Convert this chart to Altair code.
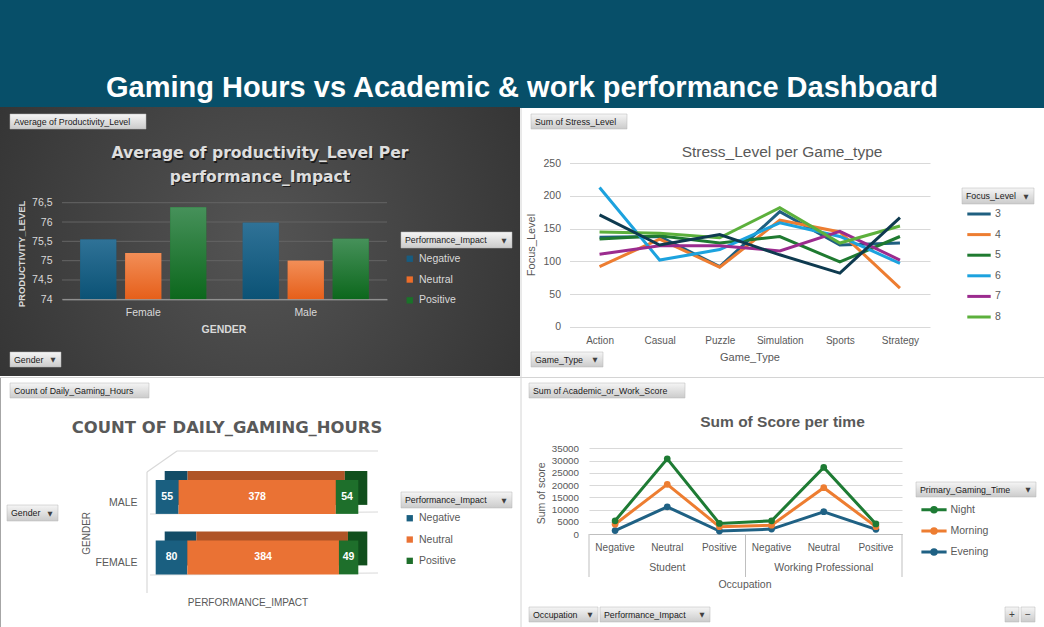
import altair as alt
import pandas as pd

# ---------------- data ----------------
genders = ["Female", "Male"]
impacts = ["Negative", "Neutral", "Positive"]
prod_female = [75.55, 75.2, 76.38]
prod_male = [75.98, 75.0, 75.57]
prod_ticks = [74, 74.5, 75, 75.5, 76, 76.5]

game_types = ["Action", "Casual", "Puzzle", "Simulation", "Sports", "Strategy"]
focus_levels = ["3", "4", "5", "6", "7", "8"]
stress_3 = [137, 138, 92, 176, 125, 128]
stress_4 = [92, 134, 91, 163, 145, 59]
stress_5 = [134, 139, 128, 138, 99, 138]
stress_6 = [213, 102, 118, 159, 138, 97]
stress_7 = [111, 124, 124, 116, 146, 102]
stress_8 = [145, 143, 136, 182, 128, 154]
stress_extra = [171, 125, 141, 110, 82, 167]
stress_ticks = [0, 50, 100, 150, 200, 250]

count_genders = ["MALE", "FEMALE"]
count_male = [55, 378, 54]
count_female = [80, 384, 49]

occupations = ["Student", "Working Professional"]
gaming_times = ["Night", "Morning", "Evening"]
score_night = [5400, 30700, 4300, 5400, 27200, 4100]
score_morning = [4000, 20300, 3000, 3600, 18900, 3000]
score_evening = [1400, 11100, 1200, 2000, 9100, 1900]
score_ticks = [0, 5000, 10000, 15000, 20000, 25000, 30000, 35000]

# ---------------- styling helpers ----------------
W, H = 1044, 627
FONT = "Liberation Sans"
GREY = "#595959"
LIGHT = "#d9d9d9"


def one():
    return pd.DataFrame({"k": [0]})


def vgrad(c0, c1):
    return alt.LinearGradient(
        gradient="linear",
        stops=[alt.GradientStop(color=c0, offset=0), alt.GradientStop(color=c1, offset=1)],
        x1=0, x2=0, y1=0, y2=1,
    )


def box(x, x2, y, y2, fill, **kw):
    return alt.Chart(one()).mark_rect(fill=fill, **kw).encode(
        x=alt.value(x), x2=alt.value(x2), y=alt.value(y), y2=alt.value(y2))


def seg(x, y, x2, y2, color, width=1):
    return alt.Chart(one()).mark_rule(color=color, strokeWidth=width).encode(
        x=alt.value(x), y=alt.value(y), x2=alt.value(x2), y2=alt.value(y2))


def txt(s, x, y, size=10, color=GREY, weight="normal", align="center", angle=0,
        font=FONT, baseline="middle"):
    kw = dict(text=s, fontSize=size, color=color, fontWeight=weight, align=align,
              baseline=baseline, font=font)
    if angle:
        kw["angle"] = angle
    return alt.Chart(one()).mark_text(**kw).encode(x=alt.value(x), y=alt.value(y))


def button(s, x, x2, y, y2, arrow=True, center=False):
    out = [box(x, x2, y, y2, vgrad("#f5f5f5", "#cbcbcb"), stroke="#b5b5b5", strokeWidth=0.5)]
    if center:
        out.append(txt(s, (x + x2) / 2, (y + y2) / 2, size=10, color="#404040"))
    else:
        out.append(txt(s, x + 4, (y + y2) / 2, size=8.8, color="#1a1a1a", align="left"))
    if arrow:
        out.append(txt("\u25BC", x2 - 8, (y + y2) / 2 + 0.5, size=6.5, color="#404040",
                       font="DejaVu Sans"))
    return out


layers = []

# ---------------- backgrounds ----------------
layers.append(box(0, W, 0, 108, "#074F69"))
layers.append(box(0, 520, 107, 376, alt.RadialGradient(
    gradient="radial",
    stops=[alt.GradientStop(color="#545454", offset=0), alt.GradientStop(color="#2b2b2b", offset=1)],
    x1=0.5, y1=0.5, r1=0, x2=0.5, y2=0.5, r2=0.75)))
layers.append(seg(521, 108, 521, H, "#d4d4d4"))
layers.append(seg(0, 377.5, W, 377.5, "#d4d4d4"))
layers.append(seg(0.5, 378, 0.5, H, "#a6a6a6"))
layers.append(txt("Gaming Hours vs Academic & work performance Dashboard", 522, 97, size=29,
                  color="white", weight="bold", baseline="alphabetic"))

# ---------------- top-left: grouped bars ----------------
TL_COLORS = ["#175C80", "#EC6D2A", "#1A7329"]
TL_GRADS = [("#2F7297", "#0B5275"), ("#F28E57", "#E65F1A"), ("#46915A", "#0C671C")]
tl_df = pd.DataFrame({
    "Gender": [g for g in genders for _ in impacts],
    "Impact": impacts * 2,
    "Avg": prod_female + prod_male,
})
tl_grid_df = pd.DataFrame({"Avg": prod_ticks})
tl_x = alt.X("Gender:N",
             scale=alt.Scale(domain=genders, range=[62, 387], paddingInner=0, paddingOuter=0),
             axis=alt.Axis(orient="bottom", offset=299.3 - H, title=None, labelAngle=0,
                           labelColor=LIGHT, labelFont=FONT, labelFontSize=10.5, labelPadding=8,
                           ticks=False, domainColor="#a6a6a6", grid=False, zindex=1))
tl_xo = alt.XOffset("Impact:N", scale=alt.Scale(domain=impacts, paddingInner=0.2, paddingOuter=0.406))
tl_y = alt.Y("Avg:Q",
             scale=alt.Scale(domain=[74, 76.5], range=[299.3, 202.7], zero=False, nice=False),
             axis=alt.Axis(orient="left", offset=-62, title=None, values=prod_ticks, format=".1~f",
                           labelExpr="replace(datum.label, '.', ',')", labelColor=LIGHT,
                           labelFont=FONT, labelFontSize=10.5, labelPadding=10, domain=False,
                           ticks=False, grid=False, zindex=1))
tl_color = alt.Color("Impact:N", scale=alt.Scale(domain=impacts, range=TL_COLORS),
                     legend=alt.Legend(orient="none", legendX=404.5, legendY=253.5, title=None,
                                       symbolType="square", symbolSize=40, symbolStrokeWidth=0,
                                       labelColor=LIGHT, labelFont=FONT, labelFontSize=10.5,
                                       labelOffset=4, rowPadding=9.8, padding=0))
tl_layers = [
    alt.Chart(tl_grid_df).mark_rule(color="#646464", strokeWidth=1).encode(
        y=tl_y, x=alt.value(62), x2=alt.value(387)),
    alt.Chart(tl_df).mark_bar().encode(x=tl_x, xOffset=tl_xo, y=tl_y, y2=alt.datum(74),
                                       color=tl_color),
]
for imp, (c0, c1) in zip(impacts, TL_GRADS):
    tl_layers.append(
        alt.Chart(tl_df).transform_filter(alt.datum.Impact == imp)
        .mark_bar(fill=vgrad(c0, c1))
        .encode(x=tl_x, xOffset=tl_xo, y=tl_y, y2=alt.datum(74)))
layers.append(alt.layer(*tl_layers))

layers.append(txt("Average of productivity_Level Per", 261, 154.5, size=15.6, color="#1c1c1c",
                  weight="bold", font="DejaVu Sans"))
layers.append(txt("performance_Impact", 261, 178, size=15.6, color="#1c1c1c",
                  weight="bold", font="DejaVu Sans"))
layers.append(txt("Average of productivity_Level Per", 260, 153.3, size=15.6, color="#dedede",
                  weight="bold", font="DejaVu Sans"))
layers.append(txt("performance_Impact", 260, 176.7, size=15.6, color="#dedede",
                  weight="bold", font="DejaVu Sans"))
layers.append(txt("PRODUCTIVITY_LEVEL", 22, 254, size=9.5, color=LIGHT, weight="bold", angle=270))
layers.append(txt("GENDER", 224, 330, size=10.5, color=LIGHT, weight="bold"))
layers += button("Average of Productivity_Level", 10, 146, 114, 129, arrow=False)
layers += button("Gender", 10, 61, 352, 367)
layers += button("Performance_Impact", 401, 512, 232, 248)

# ---------------- top-right: lines ----------------
TR_COLORS = ["#1F5F80", "#ED7D31", "#1F7A30", "#1CA2DE", "#9B2B8E", "#5CB03C"]
tr_rows = []
for f, vals in zip(focus_levels, [stress_3, stress_4, stress_5, stress_6, stress_7, stress_8]):
    for i, (g, v) in enumerate(zip(game_types, vals)):
        tr_rows.append({"Game": g, "Focus": f, "Stress": v, "i": i})
tr_df = pd.DataFrame(tr_rows)
tr_extra = pd.DataFrame({"Game": game_types, "Stress": stress_extra, "i": list(range(6))})

tr_x = alt.X("Game:N",
             scale=alt.Scale(type="point", domain=game_types, range=[569.5, 930], padding=0.5),
             axis=alt.Axis(orient="bottom", offset=326.7 - H, title=None, labelAngle=0,
                           labelColor=GREY, labelFont=FONT, labelFontSize=10, labelPadding=9,
                           domain=False, ticks=False, grid=False))
tr_y = alt.Y("Stress:Q",
             scale=alt.Scale(domain=[0, 250], range=[326.7, 163.3], nice=False),
             axis=alt.Axis(orient="left", offset=-569.5, title=None, values=stress_ticks,
                           labelColor=GREY, labelFont=FONT, labelFontSize=10.5, labelPadding=9,
                           domain=False, ticks=False, grid=True, gridColor="#d9d9d9"))
tr_color = alt.Color("Focus:N", scale=alt.Scale(domain=focus_levels, range=TR_COLORS),
                     legend=alt.Legend(orient="none", legendX=968.5, legendY=203.5, title=None,
                                       symbolType="M-1.3,0H1.3", symbolSize=324,
                                       symbolStrokeWidth=3, labelColor=GREY, labelFont=FONT,
                                       labelFontSize=10.5, labelOffset=5.5, rowPadding=3.6,
                                       padding=0))
tr_lines = alt.Chart(tr_df).mark_line(strokeWidth=3).encode(
    x=tr_x, y=tr_y, color=tr_color, order=alt.Order("i:Q"))
tr_navy = alt.Chart(tr_extra).mark_line(strokeWidth=3, color="#0E3A4F").encode(
    x=tr_x, y=tr_y, order=alt.Order("i:Q"))
layers.append(alt.layer(tr_lines, tr_navy))
layers.append(txt("Stress_Level per Game_type", 782, 151.7, size=15.5, color=GREY))
layers.append(txt("Game_Type", 750, 358, size=11, color=GREY))
layers.append(txt("Focus_Level", 532, 245, size=11, color=GREY, angle=270))
layers += button("Sum of Stress_Level", 531, 627, 114, 129, arrow=False)
layers += button("Game_Type", 531, 603, 352, 367)
layers += button("Focus_Level", 962, 1034, 188, 204)

# ---------------- bottom-left: 100% stacked 3D bars ----------------
BL_FRONT = ["#1A5F80", "#EA7234", "#1E6F2B"]
BL_BACK = ["#134C66", "#AF5427", "#114F1D"]
bl_df = pd.DataFrame({
    "Gender": ["MALE"] * 3 + ["FEMALE"] * 3,
    "Impact": impacts * 2,
    "Count": count_male + count_female,
    "ord": [0, 1, 2] * 2,
})


def bl_base():
    return (alt.Chart(bl_df)
            .transform_joinaggregate(total="sum(Count)", groupby=["Gender"])
            .transform_window(cum="sum(Count)", sort=[alt.SortField(field="ord", order="ascending")],
                              groupby=["Gender"])
            .transform_calculate(start="(datum.cum - datum.Count) / datum.total",
                                 end="datum.cum / datum.total",
                                 mid="(datum.cum - datum.Count / 2) / datum.total"))


bl_xscale = alt.Scale(domain=[0, 1], range=[155.7, 358.3], nice=False, zero=False)
bl_y = alt.Y("Gender:N",
             scale=alt.Scale(domain=count_genders, range=[466.7, 587.7], paddingInner=0.44,
                             paddingOuter=0.22),
             axis=alt.Axis(orient="left", offset=-155.7, title=None, labelColor=GREY, labelFont=FONT,
                           labelFontSize=10.5, labelPadding=18.7, labelOffset=6, domain=False,
                           ticks=False, grid=False))
bl_back = bl_base().mark_bar(xOffset=9, x2Offset=9, yOffset=-9, y2Offset=-9).encode(
    x=alt.X("start:Q", scale=bl_xscale, axis=None), x2="end:Q", y=bl_y,
    color=alt.Color("Impact:N", scale=alt.Scale(domain=impacts, range=BL_BACK), legend=None))
bl_front = bl_base().mark_bar().encode(
    x=alt.X("start:Q", scale=bl_xscale, axis=None), x2="end:Q", y=bl_y,
    color=alt.Color("Impact:N", scale=alt.Scale(domain=impacts, range=BL_FRONT),
                    legend=alt.Legend(orient="none", legendX=404.5, legendY=513, title=None,
                                      symbolType="square", symbolSize=40, symbolStrokeWidth=0,
                                      labelColor=GREY, labelFont=FONT, labelFontSize=10.5,
                                      labelOffset=4, rowPadding=10.3, padding=0)))
bl_text = bl_base().mark_text(color="white", fontWeight="bold", fontSize=10.5, font=FONT).encode(
    x=alt.X("mid:Q", scale=bl_xscale, axis=None), y=bl_y, text="Count:Q")

# 3D wall / floor lines
for s in [(147, 472, 147, 593), (147, 472, 177, 451), (177, 451, 378, 451),
          (150, 514, 378, 512), (150, 575, 378, 573)]:
    layers.append(seg(*s, color="#d9d9d9", width=1.2))
layers.append(alt.layer(bl_back, bl_front, bl_text).resolve_scale(color="independent"))
layers.append(txt("COUNT OF DAILY_GAMING_HOURS", 227, 428.3, size=16.4, color=GREY, weight="bold",
                  font="DejaVu Sans"))
layers.append(txt("GENDER", 87.3, 533.3, size=10, color=GREY, angle=270))
layers.append(txt("PERFORMANCE_IMPACT", 248, 602.7, size=10, color=GREY))
layers += button("Count of Daily_Gaming_Hours", 10, 149, 383, 398, arrow=False)
layers += button("Gender", 7, 58, 505, 521)
layers += button("Performance_Impact", 401, 512, 492, 508)

# ---------------- bottom-right: score per time ----------------
br_keys = [o + "|" + p for o in occupations for p in impacts]
br_rows = []
for t, vals in [("Evening", score_evening), ("Morning", score_morning), ("Night", score_night)]:
    for i, (k, v) in enumerate(zip(br_keys, vals)):
        br_rows.append({"Key": k, "Time": t, "Score": v, "i": i})
br_df = pd.DataFrame(br_rows)

br_scale = alt.Scale(type="band", domain=br_keys, range=[589, 902], paddingInner=0, paddingOuter=0)
br_axis = alt.Axis(orient="bottom", offset=534 - H, title=None, labelAngle=0,
                   labelExpr="split(datum.label, '|')[1]", labelColor=GREY, labelFont=FONT,
                   labelFontSize=10, labelPadding=8, ticks=False, domainColor="#bfbfbf", grid=False)
br_x = alt.X("Key:N", bandPosition=0.5, scale=br_scale, axis=br_axis)
br_y = alt.Y("Score:Q",
             scale=alt.Scale(domain=[0, 35000], range=[534, 448.3], nice=False),
             axis=alt.Axis(orient="left", offset=-589, title=None, values=score_ticks, format="d",
                           labelColor=GREY, labelFont=FONT, labelFontSize=9.8, labelPadding=10.5,
                           domain=False, ticks=False, grid=True, gridColor="#d9d9d9"))
br_legend = alt.Legend(orient="none", legendX=923.5, legendY=499.3, title=None,
                       symbolType="M-1.4,0H1.4M0.25,0A0.25,0.25,0,1,1,-0.25,0A0.25,0.25,0,1,1,0.25,0",
                       symbolSize=324, symbolStrokeWidth=3, labelColor=GREY, labelFont=FONT,
                       labelFontSize=10.5, labelOffset=6, rowPadding=2.1, padding=0)
br_color = alt.Color("Time:N", scale=alt.Scale(domain=gaming_times,
                                               range=["#1E7B34", "#ED7D31", "#1F6184"]),
                     legend=br_legend)
br_lines = alt.Chart(br_df).mark_line(strokeWidth=3).encode(
    x=br_x, y=br_y, color=br_color, order=alt.Order("i:Q"))
br_points = alt.Chart(br_df).mark_circle(size=45, opacity=1).encode(x=br_x, y=br_y, color=br_color)
sep_left = pd.DataFrame({"Key": [br_keys[0], br_keys[3]]})
sep_right = pd.DataFrame({"Key": [br_keys[5]]})
br_sep1 = alt.Chart(sep_left).mark_rule(color="#bfbfbf").encode(
    x=alt.X("Key:N", bandPosition=0, scale=br_scale, axis=br_axis), y=alt.value(534), y2=alt.value(577))
br_sep2 = alt.Chart(sep_right).mark_rule(color="#bfbfbf").encode(
    x=alt.X("Key:N", bandPosition=1, scale=br_scale, axis=br_axis), y=alt.value(534), y2=alt.value(577))
grp = pd.DataFrame({"Key": [br_keys[1], br_keys[4]], "Label": occupations})
br_grp = alt.Chart(grp).mark_text(fontSize=10.5, color=GREY, font=FONT).encode(
    x=alt.X("Key:N", bandPosition=0.5, scale=br_scale, axis=br_axis), y=alt.value(568),
    text="Label:N")
layers.append(alt.layer(br_sep1, br_sep2, br_grp, br_lines, br_points))
layers.append(txt("Sum of Score per time", 782.5, 421.7, size=15.5, color=GREY, weight="bold"))
layers.append(txt("Sum of score", 541.7, 493.3, size=10.5, color=GREY, angle=270))
layers.append(txt("Occupation", 745, 584.7, size=10.5, color=GREY))
layers += button("Sum of Academic_or_Work_Score", 529, 685, 383, 398, arrow=False)
layers += button("Occupation", 529, 598, 607, 622)
layers += button("Performance_Impact", 600, 710, 607, 622)
layers += button("Primary_Gaming_Time", 916, 1036, 482, 497)
layers += button("+", 1005, 1019, 607, 622, arrow=False, center=True)
layers += button("\u2212", 1021, 1035, 607, 622, arrow=False, center=True)

chart = (
    alt.layer(*layers)
    .resolve_scale(x="independent", y="independent", xOffset="independent", color="independent")
    .resolve_axis(x="independent", y="independent")
    .resolve_legend(color="independent")
    .properties(width=W, height=H, padding=0, autosize=alt.AutoSizeParams(type="none"),
                background="white")
    .configure_view(strokeWidth=0)
)
chart.save("out.html", embed_options={"renderer": "svg", "actions": False})
